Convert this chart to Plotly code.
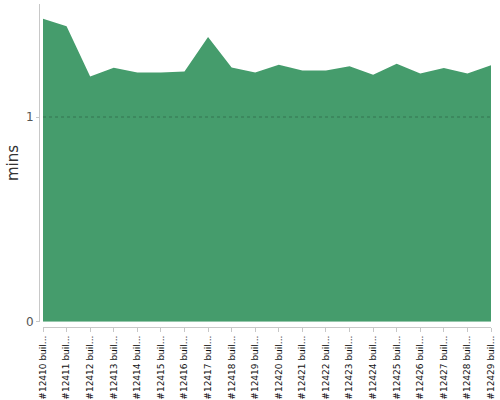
import plotly.graph_objects as go

builds = ["#12410 buil...", "#12411 buil...", "#12412 buil...", "#12413 buil...", "#12414 buil...",
          "#12415 buil...", "#12416 buil...", "#12417 buil...", "#12418 buil...", "#12419 buil...",
          "#12420 buil...", "#12421 buil...", "#12422 buil...", "#12423 buil...", "#12424 buil...",
          "#12425 buil...", "#12426 buil...", "#12427 buil...", "#12428 buil...", "#12429 buil..."]
mins = [1.480, 1.443, 1.198, 1.240, 1.217, 1.217, 1.222, 1.391, 1.242, 1.217,
        1.255, 1.227, 1.227, 1.248, 1.207, 1.260, 1.212, 1.239, 1.212, 1.253]
y_ticks = [0, 1]

W, H = 500, 400
ml, mr, mt, mb = 39, 9, 4, 73
pw, ph = W - ml - mr, H - mt - mb
x_start = 43 - ml
y_zero = 327 - 321.7
px_per_unit = 204.7

fig = go.Figure()
fig.add_trace(go.Scatter(
    x=list(range(len(builds))), y=mins, mode="lines",
    fill="tozeroy", fillcolor="#459c6c",
    line=dict(color="#459c6c", width=0),
    hoverinfo="skip", showlegend=False,
))

fig.add_shape(type="line", xref="x domain", yref="y", x0=0, x1=1, y0=1, y1=1,
              line=dict(color="rgba(0,0,0,0.25)", width=1, dash="3px,3px"), layer="above")

fig.add_annotation(text="mins", xref="paper", yref="paper",
                   x=(13 - ml) / pw, y=(H - mb - 163) / ph,
                   xanchor="center", yanchor="middle", textangle=-90, showarrow=False,
                   font=dict(size=15, color="#333", family="DejaVu Sans"))

fig.update_layout(
    width=W, height=H,
    margin=dict(l=ml, r=mr, t=mt, b=mb, autoexpand=False),
    paper_bgcolor="white", plot_bgcolor="white",
    font=dict(family="DejaVu Sans", color="#444"),
    xaxis=dict(
        domain=[x_start / pw, 1], range=[0, len(builds) - 1],
        anchor="free", position=0, automargin=False,
        tickmode="array", tickvals=list(range(len(builds))), ticktext=builds,
        tickangle=-90, tickfont=dict(size=9, color="#111"),
        showline=True, linecolor="#c8c8c8", linewidth=1,
        ticks="outside", ticklen=4, tickcolor="#c8c8c8",
        showgrid=False, zeroline=False, fixedrange=True,
    ),
    yaxis=dict(
        domain=[y_zero / ph, 1], range=[0, (321.7 - mt) / px_per_unit],
        anchor="free", position=0, automargin=False,
        tickmode="array", tickvals=y_ticks, ticktext=[str(v) for v in y_ticks],
        tickfont=dict(size=12, color="#555"),
        showline=True, linecolor="#c8c8c8", linewidth=1,
        ticks="outside", ticklen=3, tickcolor="#c8c8c8",
        showgrid=False, zeroline=False, fixedrange=True,
    ),
)

fig.write_html("out.html", config={"displayModeBar": False},
               post_script="document.body.style.margin='0';document.body.style.overflow='hidden';")
